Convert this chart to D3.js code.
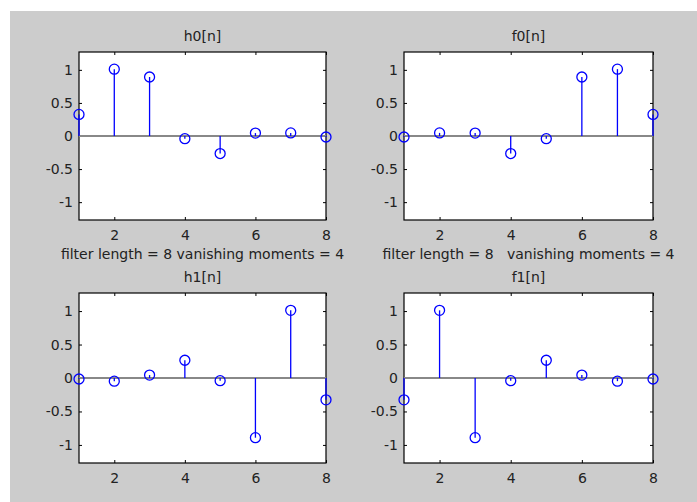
<!DOCTYPE html>
<html>
<head>
<meta charset="utf-8">
<script src="https://cdn.jsdelivr.net/npm/d3@7"></script>
<style>
  body { margin: 0; background: #fff; }
  svg { display: block; }
  text { font-family: "DejaVu Sans", sans-serif; fill: #222; }
</style>
</head>
<body>
<svg id="fig" width="697" height="502"></svg>
<script>
const n = [1, 2, 3, 4, 5, 6, 7, 8]
const h0 = [0.326, 1.011, 0.892, -0.040, -0.265, 0.044, 0.047, -0.015]
const f0 = [-0.015, 0.047, 0.044, -0.265, -0.040, 0.892, 1.011, 0.326]
const h1 = [-0.015, -0.047, 0.044, 0.265, -0.040, -0.892, 1.011, -0.326]
const f1 = [-0.326, 1.011, -0.892, -0.040, 0.265, 0.044, -0.047, -0.015]
const xTicks = [2, 4, 6, 8]
const yTicks = [-1, -0.5, 0, 0.5, 1]
const yTickLabels = ['-1', '-0.5', '0', '0.5', '1']

const svg = d3.select('#fig')
svg.append('rect').attr('x', 10).attr('y', 11).attr('width', 687).attr('height', 491).attr('fill', '#cccccc')

// panel boxes (left, top, right, bottom)
const panels = [
    {title: 'h0[n]', data: h0, box: [79, 52, 326, 220], xlabel: 'filter length = 8 vanishing moments = 4'},
    {title: 'f0[n]', data: f0, box: [404, 52, 653, 220], xlabel: 'filter length = 8\u00a0\u00a0\u00a0vanishing moments = 4'},
    {title: 'h1[n]', data: h1, box: [79, 293, 326, 463]},
    {title: 'f1[n]', data: f1, box: [404, 293, 653, 463]}
]

panels.forEach(p => {
    const [l, t, r, b] = p.box
    const x = d3.scaleLinear().domain([1, 8]).range([l, r])
    const y = d3.scaleLinear().domain([-1.27, 1.27]).range([b, t])
    const g = svg.append('g')

    g.append('rect').attr('x', l).attr('y', t).attr('width', r - l).attr('height', b - t)
        .attr('fill', '#fff').attr('stroke', '#000').attr('stroke-width', 1.2)

    // axes: ticks inward on all four sides
    const tk = 3
    g.append('g').attr('transform', `translate(0,${b})`)
        .call(d3.axisBottom(x).tickValues(xTicks).tickSizeInner(-tk).tickSizeOuter(0).tickPadding(10).tickFormat(d3.format('d')))
    g.append('g').attr('transform', `translate(0,${t})`)
        .call(d3.axisTop(x).tickValues(xTicks).tickSizeInner(-tk).tickSizeOuter(0).tickFormat(''))
    g.append('g').attr('transform', `translate(${l},0)`)
        .call(d3.axisLeft(y).tickValues(yTicks).tickSizeInner(-tk).tickSizeOuter(0).tickPadding(6)
            .tickFormat((d, i) => yTickLabels[i]))
    g.append('g').attr('transform', `translate(${r},0)`)
        .call(d3.axisRight(y).tickValues(yTicks).tickSizeInner(-tk).tickSizeOuter(0).tickFormat(''))
    g.selectAll('.domain').remove()
    g.selectAll('.tick line').attr('stroke', '#000')
    g.selectAll('.tick text').style('font-size', '14px').style('font-family', '"DejaVu Sans", sans-serif').attr('fill', '#222')

    // baseline
    g.append('line').attr('x1', l).attr('x2', r).attr('y1', y(0)).attr('y2', y(0))
        .attr('stroke', '#888').attr('stroke-width', 2)

    const pts = n.map((v, i) => ({n: v, v: p.data[i]}))
    g.selectAll('.stem').data(pts).enter().append('line')
        .attr('x1', d => x(d.n)).attr('x2', d => x(d.n))
        .attr('y1', y(0)).attr('y2', d => y(d.v))
        .attr('stroke', '#0000ff').attr('stroke-width', 1.3)
    g.selectAll('.mk').data(pts).enter().append('circle')
        .attr('cx', d => x(d.n)).attr('cy', d => y(d.v)).attr('r', 5)
        .attr('fill', 'none').attr('stroke', '#0000ff').attr('stroke-width', 1.3)

    g.append('text').attr('x', (l + r) / 2).attr('y', t - 11).attr('text-anchor', 'middle')
        .style('font-size', '14px').text(p.title)
    if (p.xlabel) {
        g.append('text').attr('x', (l + r) / 2).attr('y', b + 39).attr('text-anchor', 'middle')
            .style('font-size', '14px').text(p.xlabel)
    }
})
</script>
</body>
</html>
